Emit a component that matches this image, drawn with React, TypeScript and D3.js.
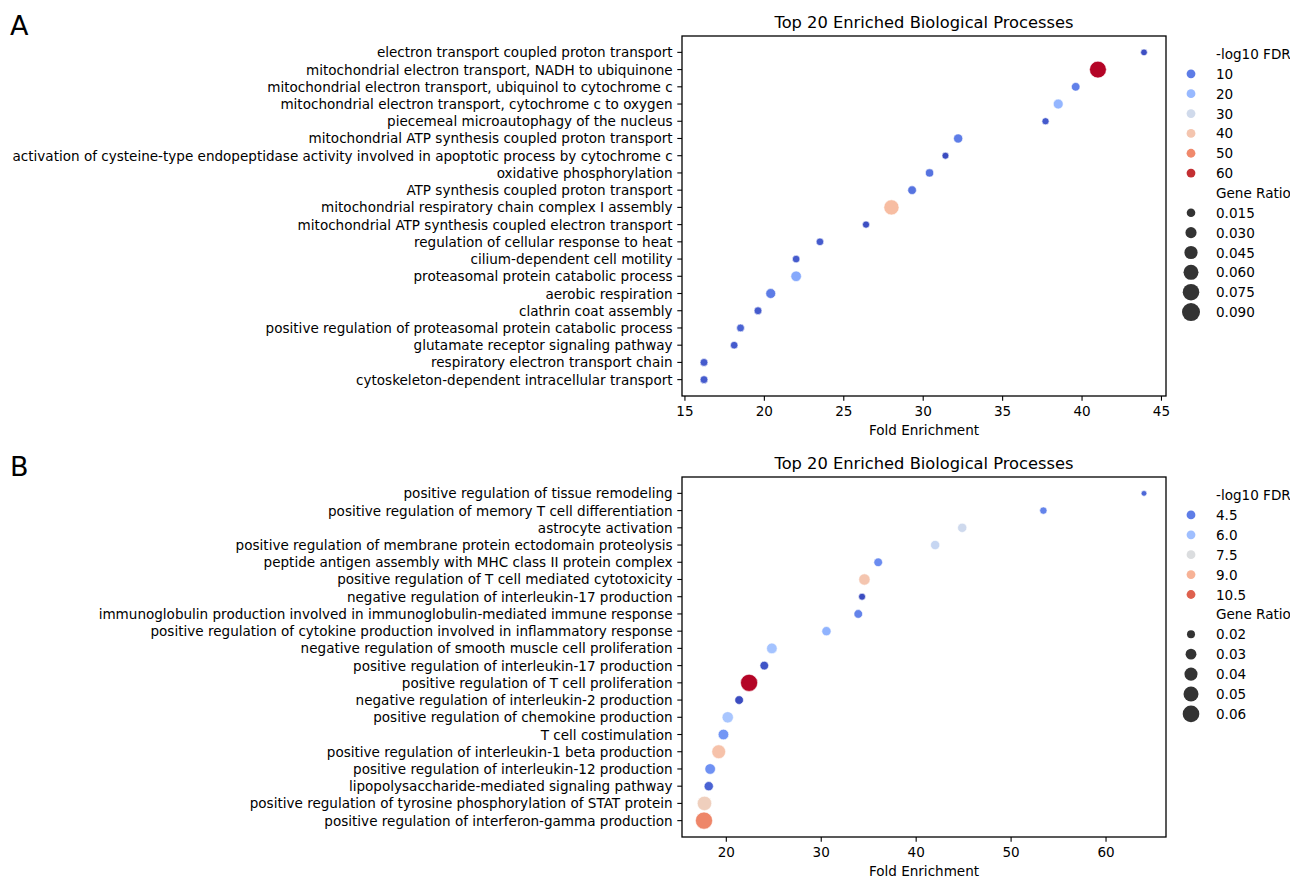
import React from 'react';
import * as d3 from 'd3';

// ---- panel A data ----
const termsA = [
  'electron transport coupled proton transport',
  'mitochondrial electron transport, NADH to ubiquinone',
  'mitochondrial electron transport, ubiquinol to cytochrome c',
  'mitochondrial electron transport, cytochrome c to oxygen',
  'piecemeal microautophagy of the nucleus',
  'mitochondrial ATP synthesis coupled proton transport',
  'activation of cysteine-type endopeptidase activity involved in apoptotic process by cytochrome c',
  'oxidative phosphorylation',
  'ATP synthesis coupled proton transport',
  'mitochondrial respiratory chain complex I assembly',
  'mitochondrial ATP synthesis coupled electron transport',
  'regulation of cellular response to heat',
  'cilium-dependent cell motility',
  'proteasomal protein catabolic process',
  'aerobic respiration',
  'clathrin coat assembly',
  'positive regulation of proteasomal protein catabolic process',
  'glutamate receptor signaling pathway',
  'respiratory electron transport chain',
  'cytoskeleton-dependent intracellular transport',
];
const foldA = [43.9, 41.0, 39.6, 38.5, 37.7, 32.2, 31.4, 30.4, 29.3, 28.0, 26.4, 23.5, 22.0, 22.0, 20.4, 19.6, 18.5, 18.1, 16.2, 16.2];
const fdrA = [3.9, 62.4, 10.6, 19.4, 5.3, 10.2, 3.5, 8.8, 8.8, 41.8, 3.9, 5.5, 5.5, 17.0, 10.0, 5.5, 6.5, 5.5, 5.5, 5.5];
const ratioA = [0.006, 0.078, 0.015, 0.022, 0.008, 0.018, 0.007, 0.013, 0.015, 0.062, 0.008, 0.01, 0.01, 0.026, 0.022, 0.011, 0.011, 0.01, 0.011, 0.011];
const fdrTicksA = [10, 20, 30, 40, 50, 60];
const ratioTicksA = [0.015, 0.03, 0.045, 0.06, 0.075, 0.09];

// ---- panel B data ----
const termsB = [
  'positive regulation of tissue remodeling',
  'positive regulation of memory T cell differentiation',
  'astrocyte activation',
  'positive regulation of membrane protein ectodomain proteolysis',
  'peptide antigen assembly with MHC class II protein complex',
  'positive regulation of T cell mediated cytotoxicity',
  'negative regulation of interleukin-17 production',
  'immunoglobulin production involved in immunoglobulin-mediated immune response',
  'positive regulation of cytokine production involved in inflammatory response',
  'negative regulation of smooth muscle cell proliferation',
  'positive regulation of interleukin-17 production',
  'positive regulation of T cell proliferation',
  'negative regulation of interleukin-2 production',
  'positive regulation of chemokine production',
  'T cell costimulation',
  'positive regulation of interleukin-1 beta production',
  'positive regulation of interleukin-12 production',
  'lipopolysaccharide-mediated signaling pathway',
  'positive regulation of tyrosine phosphorylation of STAT protein',
  'positive regulation of interferon-gamma production',
];
const foldB = [64.0, 53.4, 44.85, 42.0, 36.0, 34.55, 34.3, 33.9, 30.55, 24.8, 24.0, 22.4, 21.35, 20.15, 19.7, 19.2, 18.3, 18.15, 17.7, 17.65];
const fdrB = [4.1, 4.6, 7.1, 6.9, 4.8, 8.5, 3.6, 4.6, 5.65, 6.1, 3.75, 11.5, 3.6, 6.2, 5.0, 8.6, 4.9, 4.0, 8.2, 9.9];
const ratioB = [0.014, 0.018, 0.024, 0.024, 0.022, 0.032, 0.017, 0.022, 0.024, 0.029, 0.022, 0.063, 0.022, 0.032, 0.029, 0.044, 0.029, 0.024, 0.047, 0.063];
const fdrTicksB = [4.5, 6.0, 7.5, 9.0, 10.5];
const ratioTicksB = [0.02, 0.03, 0.04, 0.05, 0.06];

// matplotlib coolwarm (Moreland)
const coolwarmStops = [
  [59, 76, 192], [68, 90, 204], [77, 104, 215], [87, 117, 225], [98, 130, 234], [108, 142, 241],
  [119, 154, 247], [130, 165, 251], [141, 176, 254], [152, 185, 255], [163, 194, 255], [174, 201, 253],
  [184, 208, 249], [194, 213, 244], [204, 217, 238], [213, 219, 230], [221, 221, 221], [229, 216, 209],
  [236, 211, 197], [241, 204, 185], [245, 196, 173], [247, 187, 160], [247, 177, 148], [247, 166, 135],
  [244, 154, 123], [241, 141, 111], [236, 127, 99], [229, 112, 88], [222, 96, 77], [213, 80, 66],
  [203, 62, 56], [192, 40, 47], [180, 4, 38],
];
const coolwarm = d3
  .scaleLinear<string>()
  .domain(coolwarmStops.map((_, i) => i / (coolwarmStops.length - 1)))
  .range(coolwarmStops.map((c) => `rgb(${c[0]},${c[1]},${c[2]})`))
  .interpolate(d3.interpolateRgb)
  .clamp(true);

const FONT = '"DejaVu Sans", sans-serif';
const TICK_FS = 13.55;
const LEFT = 682;
const RIGHT = 1166;

type PanelProps = {
  letter: string;
  top: number;
  terms: string[];
  fold: number[];
  fdr: number[];
  ratio: number[];
  fdrTicks: number[];
  ratioTicks: number[];
  fdrFmt: (v: number) => string;
  ratioFmt: (v: number) => string;
  areaRange: [number, number];
  legendStep: number;
};

const Panel = (p: PanelProps) => {
  const height = 360;
  const bottom = p.top + height;
  const [xmin, xmax] = d3.extent(p.fold) as [number, number];
  const m = (xmax - xmin) * 0.05;
  const x = d3.scaleLinear().domain([xmin - m, xmax + m]).range([LEFT, RIGHT]);
  const y = d3.scalePoint<string>().domain(p.terms).range([p.top, bottom]).padding(0.95);
  const hue = d3.scaleLinear().domain(d3.extent(p.fdr) as [number, number]).range([0, 1]);
  const area = d3.scaleLinear().domain(d3.extent(p.ratio) as [number, number]).range(p.areaRange);
  const rad = (v: number) => Math.sqrt(Math.max(area(v), 0.5));
  const xticks = x.ticks(6);
  const tickLen = 4.7;

  const order = d3.range(p.terms.length);
  const legX = 1191;
  const legTextX = 1216;
  const legY0 = p.top + 18;
  const legendRows: { label: string; kind: 'title' | 'hue' | 'size'; v: number }[] = [
    { label: '-log10 FDR', kind: 'title', v: 0 },
    ...p.fdrTicks.map((v) => ({ label: p.fdrFmt(v), kind: 'hue' as const, v })),
    { label: 'Gene Ratio', kind: 'title', v: 0 },
    ...p.ratioTicks.map((v) => ({ label: p.ratioFmt(v), kind: 'size' as const, v })),
  ];

  return (
    <g>
      <text x={10} y={p.top - 1} fontFamily={FONT} fontSize={27} fill="#000">
        {p.letter}
      </text>
      <text x={(LEFT + RIGHT) / 2} y={p.top - 8} textAnchor="middle" fontFamily={FONT} fontSize={16.3} fill="#000">
        Top 20 Enriched Biological Processes
      </text>
      {/* points */}
      {order.map((i) => (
        <circle
          key={i}
          cx={x(p.fold[i])}
          cy={y(p.terms[i])}
          r={rad(p.ratio[i])}
          fill={coolwarm(hue(p.fdr[i]))}
          stroke="#fff"
          strokeWidth={0.6}
        />
      ))}
      {/* frame */}
      <rect x={LEFT} y={p.top} width={RIGHT - LEFT} height={height} fill="none" stroke="#000" strokeWidth={1.3} />
      {/* y axis */}
      {p.terms.map((t) => (
        <g key={t}>
          <line x1={LEFT - tickLen} x2={LEFT} y1={y(t)} y2={y(t)} stroke="#000" strokeWidth={1.1} />
          <text
            x={LEFT - tickLen - 4.7}
            y={y(t)}
            textAnchor="end"
            dominantBaseline="central"
            fontFamily={FONT}
            fontSize={TICK_FS}
            fill="#000"
          >
            {t}
          </text>
        </g>
      ))}
      {/* x axis */}
      {xticks.map((v) => (
        <g key={v}>
          <line x1={x(v)} x2={x(v)} y1={bottom} y2={bottom + tickLen} stroke="#000" strokeWidth={1.1} />
          <text x={x(v)} y={bottom + 19.5} textAnchor="middle" fontFamily={FONT} fontSize={TICK_FS} fill="#000">
            {v}
          </text>
        </g>
      ))}
      <text x={(LEFT + RIGHT) / 2} y={bottom + 39} textAnchor="middle" fontFamily={FONT} fontSize={TICK_FS} fill="#000">
        Fold Enrichment
      </text>
      {/* legend */}
      {legendRows.map((row, k) => {
        const cy = legY0 + k * p.legendStep;
        return (
          <g key={k}>
            {row.kind === 'hue' && <circle cx={legX} cy={cy} r={4.4} fill={coolwarm(hue(row.v))} />}
            {row.kind === 'size' && <circle cx={legX} cy={cy} r={rad(row.v)} fill="#333333" />}
            <text x={legTextX} y={cy} dominantBaseline="central" fontFamily={FONT} fontSize={TICK_FS} fill="#000">
              {row.label}
            </text>
          </g>
        );
      })}
    </g>
  );
};

export default function App() {
  return (
    <svg
      width={1290}
      height={878}
      style={{ position: 'absolute', left: 0, top: 0, background: '#fff', display: 'block' }}
    >
      <rect width={1290} height={878} fill="#fff" />
      <Panel
        letter="A"
        top={36}
        terms={termsA}
        fold={foldA}
        fdr={fdrA}
        ratio={ratioA}
        fdrTicks={fdrTicksA}
        ratioTicks={ratioTicksA}
        fdrFmt={(v) => v.toFixed(0)}
        ratioFmt={(v) => v.toFixed(3)}
        areaRange={[11, 71]}
        legendStep={19.85}
      />
      <Panel
        letter="B"
        top={477}
        terms={termsB}
        fold={foldB}
        fdr={fdrB}
        ratio={ratioB}
        fdrTicks={fdrTicksB}
        ratioTicks={ratioTicksB}
        fdrFmt={(v) => v.toFixed(1)}
        ratioFmt={(v) => v.toFixed(2)}
        areaRange={[8, 73.4]}
        legendStep={19.9}
      />
    </svg>
  );
}
